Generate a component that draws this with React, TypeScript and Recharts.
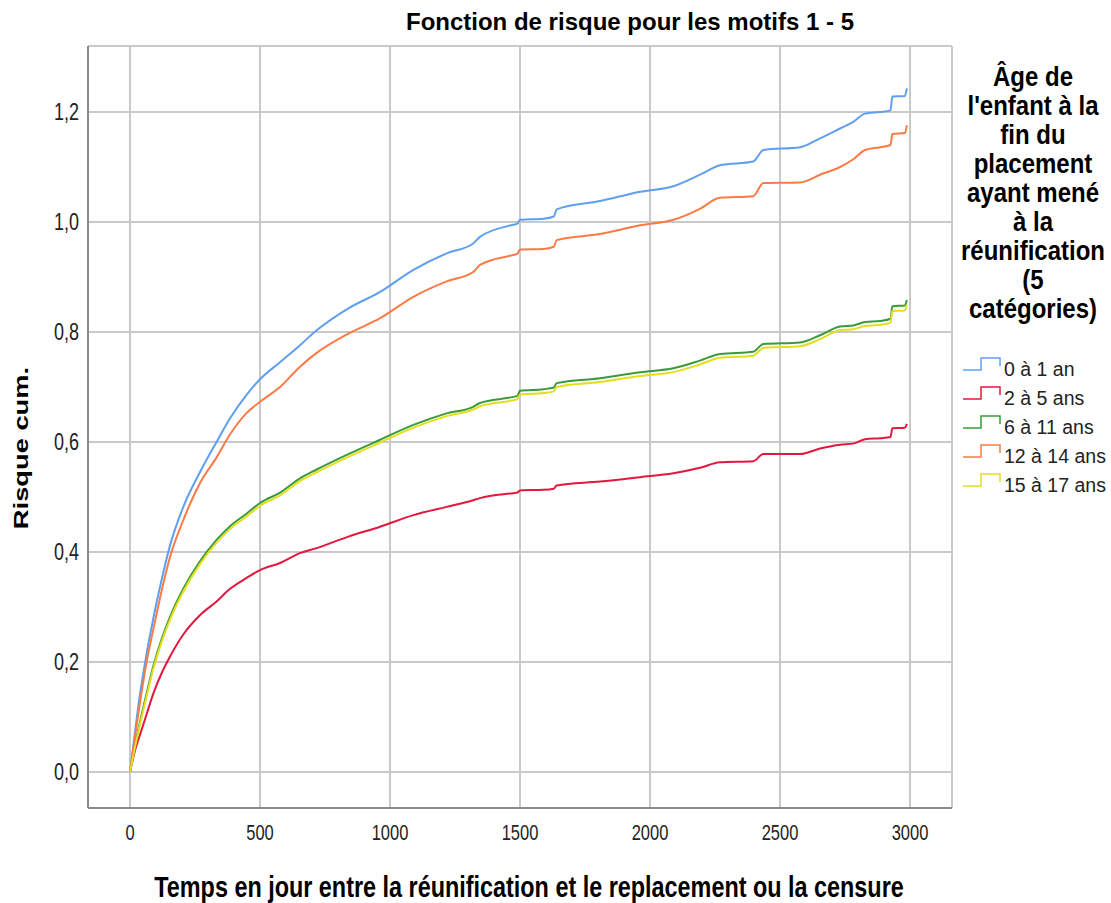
import { LineChart, Line, XAxis, YAxis, CartesianGrid, Legend } from "recharts";

const FONT = "'Liberation Sans', Arial, sans-serif";

// days (time axis), shared by all groups
const days = [
	0, 20, 38, 64, 90, 122, 154, 205, 269, 333, 385, 449, 500, 577, 654, 718, 840, 962, 1090, 1218,
	1320, 1346, 1474, 1490, 1500, 1590, 1630, 1641, 1808, 1962, 2090, 2192, 2269, 2397, 2436, 2577,
	2654, 2731, 2782, 2827, 2885, 2925, 2932, 2980, 2988,
];

const age0to1 = [
	0, 0.075, 0.14, 0.215, 0.28, 0.35, 0.412, 0.482, 0.545, 0.6, 0.643, 0.686, 0.714, 0.745, 0.776,
	0.803, 0.843, 0.873, 0.913, 0.943, 0.961, 0.973, 0.995, 0.997, 1.004, 1.006, 1.01, 1.023, 1.038,
	1.055, 1.065, 1.086, 1.103, 1.11, 1.131, 1.136, 1.152, 1.17, 1.182, 1.197, 1.2, 1.203, 1.228,
	1.229, 1.243,
];

const age2to5 = [
	0, 0.04, 0.067, 0.105, 0.143, 0.18, 0.21, 0.25, 0.285, 0.31, 0.333, 0.353, 0.367, 0.38, 0.398,
	0.407, 0.428, 0.446, 0.467, 0.482, 0.494, 0.498, 0.507, 0.508, 0.512, 0.513, 0.515, 0.521, 0.528,
	0.536, 0.543, 0.553, 0.563, 0.565, 0.578, 0.578, 0.588, 0.595, 0.597, 0.605, 0.607, 0.609, 0.625,
	0.626, 0.633,
];

const age6to11 = [
	0, 0.05, 0.09, 0.143, 0.193, 0.242, 0.282, 0.333, 0.383, 0.422, 0.447, 0.47, 0.489, 0.508, 0.534,
	0.55, 0.578, 0.604, 0.631, 0.652, 0.664, 0.671, 0.682, 0.684, 0.693, 0.696, 0.699, 0.707, 0.716,
	0.727, 0.734, 0.748, 0.76, 0.764, 0.778, 0.781, 0.794, 0.81, 0.812, 0.818, 0.82, 0.824, 0.847,
	0.848, 0.858,
];

const age12to14 = [
	0, 0.068, 0.125, 0.2, 0.26, 0.33, 0.391, 0.458, 0.525, 0.572, 0.614, 0.653, 0.673, 0.7, 0.737,
	0.762, 0.797, 0.825, 0.864, 0.892, 0.909, 0.922, 0.94, 0.942, 0.95, 0.951, 0.955, 0.967, 0.978,
	0.994, 1.004, 1.024, 1.044, 1.047, 1.071, 1.072, 1.086, 1.1, 1.114, 1.131, 1.136, 1.14, 1.16,
	1.162, 1.176,
];

const age15to17 = [
	0, 0.047, 0.086, 0.138, 0.188, 0.237, 0.277, 0.328, 0.378, 0.417, 0.442, 0.465, 0.484, 0.503, 0.529,
	0.545, 0.573, 0.599, 0.626, 0.647, 0.659, 0.665, 0.676, 0.678, 0.686, 0.689, 0.692, 0.7, 0.709,
	0.72, 0.727, 0.741, 0.753, 0.757, 0.771, 0.774, 0.787, 0.803, 0.805, 0.811, 0.813, 0.817, 0.838,
	0.839, 0.85,
];

const series = [
	{ name: "0 à 1 an", color: "#5f9ff0", values: age0to1 },
	{ name: "2 à 5 ans", color: "#e2183f", values: age2to5 },
	{ name: "6 à 11 ans", color: "#3b9a3b", values: age6to11 },
	{ name: "12 à 14 ans", color: "#fb7a45", values: age12to14 },
	{ name: "15 à 17 ans", color: "#e3df1c", values: age15to17 },
];

const xTicks = [0, 500, 1000, 1500, 2000, 2500, 3000];
const yTicks = [0, 0.2, 0.4, 0.6, 0.8, 1.0, 1.2];

const legendTitle = [
	"Âge de",
	"l'enfant à la",
	"fin du",
	"placement",
	"ayant mené",
	"à la",
	"réunification",
	"(5",
	"catégories)",
];

const LEG_X = 950;
const LEG_Y = 40;

function YTick({ x, y, payload }: any) {
	return (
		<g transform={`translate(${x},${y + 8}) scale(1,1.3)`}>
			<text x={0} y={0} textAnchor="end" fontSize={18} fontFamily={FONT} fill="#222">
				{payload.value.toFixed(1).replace(".", ",")}
			</text>
		</g>
	);
}

function XTick({ x, y, payload }: any) {
	return (
		<g transform={`translate(${x},${y + 32}) scale(1,1.3)`}>
			<text x={0} y={0} textAnchor="middle" fontSize={16.5} fontFamily={FONT} fill="#222">
				{payload.value}
			</text>
		</g>
	);
}

function LegendBox() {
	return (
		<svg width={161} height={470} style={{ display: "block" }}>
			{legendTitle.map((line, i) => (
				<g key={line} transform={`translate(${1033 - LEG_X},${86 + 29 * i - LEG_Y}) scale(1,1.15)`}>
					<text x={0} y={0} textAnchor="middle" fontSize={24} fontWeight="bold" fontFamily={FONT} fill="#000">
						{line}
					</text>
				</g>
			))}
			{series.map((s, i) => {
				const cy = 369 + 29 * i - LEG_Y;
				return (
					<g key={s.name}>
						<path
							d={`M${963 - LEG_X},${cy + 1} H${981 - LEG_X} V${cy - 11} H${1000 - LEG_X} V${cy - 3}`}
							fill="none"
							stroke={s.color}
							strokeWidth={1.5}
						/>
						<text x={1004 - LEG_X} y={cy + 7} fontSize={19.5} fontFamily={FONT} fill="#222">
							{s.name}
						</text>
					</g>
				);
			})}
		</svg>
	);
}

export default function App() {
	return (
		<div style={{ position: "absolute", left: 0, top: 0, width: 1111, height: 903, background: "#fff" }}>
			<LineChart
				width={1111}
				height={903}
				margin={{ top: 46, right: 159, bottom: 55, left: 18 }}
			>
				<CartesianGrid stroke="#c9c9c9" strokeWidth={2} />
				<XAxis
					type="number"
					dataKey="day"
					domain={[-161.5, 3161.5]}
					ticks={xTicks}
					allowDataOverflow
					height={40}
					tickSize={0}
					tickMargin={0}
					tick={<XTick />}
					axisLine={{ stroke: "#8a8a8a", strokeWidth: 2 }}
				/>
				<YAxis
					type="number"
					domain={[-0.0655, 1.32]}
					ticks={yTicks}
					allowDataOverflow
					width={70}
					tickSize={0}
					tickMargin={9}
					tick={<YTick />}
					axisLine={{ stroke: "#8a8a8a", strokeWidth: 2 }}
				/>
				<Legend
					layout="horizontal"
					align="center"
					verticalAlign="middle"
					content={() => <LegendBox />}
					wrapperStyle={{ position: "absolute", left: LEG_X, top: LEG_Y, width: 161, height: 470 }}
				/>
				{series.map((s) => (
					<Line
						key={s.name}
						name={s.name}
						data={days.map((d, i) => ({ day: d, v: s.values[i] }))}
						dataKey="v"
						type="monotone"
						stroke={s.color}
						strokeWidth={2}
						dot={false}
						activeDot={false}
						isAnimationActive={false}
					/>
				))}
			</LineChart>
			<svg
				width={1111}
				height={903}
				style={{ position: "absolute", left: 0, top: 0, pointerEvents: "none" }}
			>
				<text x={630} y={30} textAnchor="middle" fontSize={24} fontWeight="bold" fontFamily={FONT} fill="#000">
					Fonction de risque pour les motifs 1 - 5
				</text>
				<g transform="translate(529,897) scale(1,1.3)">
					<text x={0} y={0} textAnchor="middle" fontSize={23.4} fontWeight="bold" fontFamily={FONT} fill="#000">
						Temps en jour entre la réunification et le replacement ou la censure
					</text>
				</g>
				<g transform="translate(28,448) rotate(-90) scale(1.3,1)">
					<text x={0} y={0} textAnchor="middle" fontSize={21} fontWeight="bold" fontFamily={FONT} fill="#000">
						Risque cum.
					</text>
				</g>
			</svg>
		</div>
	);
}
